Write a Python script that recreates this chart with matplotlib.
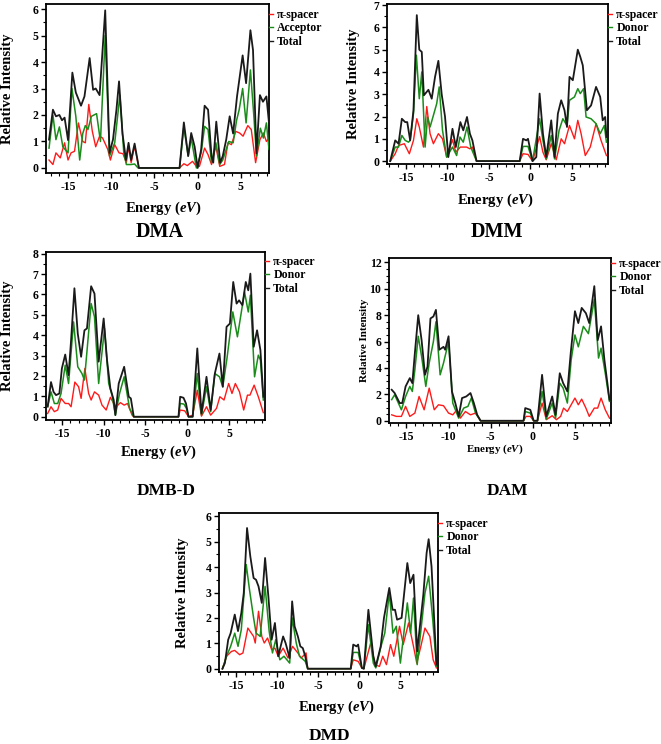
import matplotlib
matplotlib.use("Agg")
import matplotlib.pyplot as plt
from matplotlib.ticker import MultipleLocator

plt.rcParams['font.family'] = ['Liberation Serif', 'DejaVu Serif']
plt.rcParams['font.weight'] = 'bold'
plt.rcParams['axes.unicode_minus'] = False
plt.rcParams['mathtext.fontset'] = 'custom'
plt.rcParams['mathtext.rm'] = 'Liberation Serif:bold'
plt.rcParams['mathtext.it'] = 'Liberation Serif:bold:italic'
plt.rcParams['mathtext.bf'] = 'Liberation Serif:bold'

# ---------------- data (energy in eV, relative intensity) ----------------
# DMA
dma_tot_x = [-17.2,-16.75,-16.4,-16.0,-15.7,-15.4,-15.0,-14.5,-14.1,-13.5,-13.1,-12.5,-12.1,-11.8,-11.35,-10.7,-10.2,-9.8,-9.4,-9.1,-8.7,-8.3,-8.0,-7.7,-7.3,-6.8,-2.1,-1.6,-1.1,-0.75,-0.35,0.0,0.4,0.8,1.2,1.6,1.8,2.15,2.6,2.9,3.3,3.7,4.1,4.55,5.2,5.6,6.1,6.4,6.8,7.2,7.55,7.95,8.25]
dma_tot_y = [1.07,2.2,1.95,2.0,1.8,1.9,1.05,3.6,2.85,2.35,2.7,4.15,2.95,3.0,2.75,5.95,0.57,1.07,2.2,3.27,1.3,0.3,0.95,0.3,0.92,0,0,1.72,0.45,1.32,0.8,0,0.7,2.35,2.2,0.45,0.2,1.75,0.2,0.45,1.07,1.95,1.3,2.7,4.25,3.2,5.2,4.45,0.55,2.75,2.5,2.7,1.7]
dma_acc_x = [-17.2,-16.75,-16.4,-16.0,-15.6,-15.0,-14.55,-14.1,-13.65,-13.3,-13.0,-12.7,-12.3,-11.7,-11.25,-10.7,-10.2,-9.6,-9.0,-8.55,-8.25,-7.7,-7.3,-6.9,-2.1,-1.6,-1.1,-0.75,-0.15,0.4,0.8,1.2,1.6,2.1,2.55,2.9,3.3,3.6,4.1,4.5,4.8,5.2,5.6,6.1,6.5,6.8,7.25,7.6,7.95,8.25]
dma_acc_y = [0.75,2.0,1.07,1.55,0.8,0.57,3.0,1.95,0.3,1.3,1.6,1.45,1.95,2.05,1.0,5.0,0.45,0.95,2.75,0.57,0.13,0.13,0.15,0,0,1.55,0.45,1.13,0,0.57,1.57,1.45,0.2,0.95,0.13,0.3,0.7,1.0,0.95,1.8,2.2,3.0,1.7,3.7,1.95,0.45,1.5,1.13,1.7,0.7]
dma_pi_x = [-17.2,-16.75,-16.4,-15.9,-15.4,-15.0,-14.65,-14.25,-13.8,-13.3,-13.0,-12.6,-12.2,-11.8,-11.35,-11.0,-10.4,-10.1,-9.6,-9.1,-8.65,-8.25,-8.0,-7.7,-7.3,-6.8,-2.1,-1.6,-1.2,-0.6,-0.15,0.2,0.8,1.2,1.6,2.1,2.55,3.1,3.5,3.9,4.4,4.85,5.25,5.8,6.2,6.7,7.2,7.6,7.95,8.25]
dma_pi_y = [0.3,0.13,0.57,0.38,0.95,0.3,0.57,0.63,1.7,1.0,0.95,2.4,1.4,0.8,1.2,1.13,0.7,0.3,0.88,0.57,0.54,0.2,0.82,0.2,0.82,0,0,0.16,0.09,0.25,0.06,0.06,0.75,0.5,0.13,0.82,0.06,0.13,0.95,0.88,1.38,1.32,1.2,1.6,1.45,0.2,1.07,1.32,1.0,1.13]

# DMM
dmm_tot_x = [-16.9,-16.3,-15.9,-15.5,-15.1,-14.85,-14.5,-14.1,-13.7,-13.4,-13.1,-12.85,-12.3,-11.9,-11.5,-11.1,-10.7,-10.3,-9.9,-9.4,-9.0,-8.45,-8.1,-7.65,-7.3,-7.0,-6.5,-1.3,-0.9,-0.5,-0.3,0.25,0.7,1.1,1.5,1.9,2.5,2.9,3.3,3.7,4.1,4.4,4.7,5.1,5.7,6.0,6.3,6.8,7.3,7.9,8.4,8.7,9.0,9.15]
dmm_tot_y = [0,0.93,0.78,1.9,1.75,1.75,0.93,2.28,6.55,5.0,4.9,2.95,3.2,2.8,3.78,4.5,3.0,2.0,0.18,1.45,0.63,1.75,1.38,1.98,1.23,0.93,0,0,1.0,0.93,1.0,0,0.18,3.03,1.23,0.18,1.83,0.18,2.13,2.73,2.28,1.53,3.78,3.63,5.0,4.68,4.3,2.28,2.5,3.33,2.88,1.83,1.98,1.08]
dmm_don_x = [-16.9,-16.3,-15.9,-15.5,-15.1,-14.7,-14.5,-14.1,-13.75,-13.4,-13.1,-12.7,-12.4,-12.1,-11.7,-11.3,-11.0,-10.6,-10.1,-9.4,-8.9,-8.5,-8.1,-7.65,-7.2,-6.5,-1.3,-0.9,-0.3,0.25,1.1,1.5,1.9,2.5,2.9,3.45,3.9,4.4,4.7,5.3,5.7,6.0,6.4,6.7,7.3,7.9,8.4,8.9,9.15]
dmm_don_y = [0,0.63,0.63,1.15,0.93,0.85,0.93,2.13,4.75,2.8,4.0,0.63,1.98,1.53,2.05,2.58,3.33,1.38,0.18,0.63,0.25,1.08,0.85,1.53,0.63,0,0,0.66,0.66,0,1.9,0.93,0.1,1.15,0.1,1.38,1.9,1.6,2.73,2.88,3.25,3.03,3.25,1.98,1.9,1.68,1.23,1.6,0.85]
dmm_pi_x = [-16.9,-16.3,-15.9,-15.2,-14.6,-14.1,-13.7,-13.4,-12.9,-12.5,-12.1,-11.7,-11.1,-10.6,-10.1,-9.4,-9.0,-8.45,-7.7,-7.3,-7.0,-6.5,-1.3,-0.9,-0.3,0.25,1.1,1.5,1.9,2.5,3.1,3.7,4.1,4.7,5.3,5.7,6.1,6.6,7.2,7.9,8.5,9.15]
dmm_pi_y = [0,0.33,0.7,0.78,0.33,0.93,1.9,1.53,0.63,2.45,1.23,0.78,1.23,1.0,0.18,0.96,0.4,0.63,0.63,0.55,0.63,0,0,0.33,0.3,0,1.1,0.4,0.06,0.78,0.06,1.0,0.78,1.6,1.0,1.83,1.23,0.25,0.63,1.68,0.93,0.25]

# DMB-D
dmbd_tot_x = [-16.7,-16.3,-16.0,-15.7,-15.3,-15.0,-14.6,-14.2,-13.9,-13.5,-13.1,-12.7,-12.3,-12.0,-11.5,-11.1,-10.6,-10.0,-9.6,-9.2,-8.8,-8.6,-8.2,-7.55,-7.0,-6.75,-6.4,-1.05,-0.85,-0.45,-0.15,0.15,0.65,1.2,1.7,2.3,2.8,3.3,3.85,4.25,4.7,5.1,5.5,5.9,6.2,6.6,7.0,7.3,7.55,7.95,8.35,8.75,9.1]
dmbd_tot_y = [0.5,1.7,1.22,1.06,1.14,2.37,3.05,2.04,3.75,6.3,4.08,2.94,4.24,4.33,6.4,6.04,2.7,4.82,2.78,1.39,0.82,0.08,1.63,2.45,0.98,0.9,0,0,0.98,0.93,0.65,0,0,3.35,0.16,1.96,0.33,2.12,3.1,1.47,4.41,4.57,6.61,5.55,5.71,5.47,6.61,6.2,7.02,3.43,4.24,3.27,0.98]
dmbd_don_x = [-16.7,-16.3,-15.9,-15.5,-15.1,-14.6,-14.2,-13.6,-13.1,-12.6,-12.3,-11.5,-11.1,-10.6,-9.9,-9.4,-9.0,-8.6,-8.1,-7.55,-6.9,-6.4,-1.05,-0.85,-0.4,-0.1,0.15,0.65,1.2,1.7,2.3,2.8,3.3,3.85,4.25,4.75,5.45,6.0,6.85,7.3,7.55,8.05,8.5,8.75,9.1]
dmbd_don_y = [0.5,1.22,0.65,0.65,1.14,2.53,1.63,4.65,2.45,2.12,1.8,5.55,4.9,1.63,4.33,1.63,1.06,0.08,1.14,1.96,0.41,0,0,0.65,0.62,0.41,0,0,2.12,0.08,1.47,0.25,2.12,1.96,1.47,2.86,5.14,3.92,6.12,5.14,5.96,1.96,3.02,2.78,0.82]
dmbd_pi_x = [-16.7,-16.3,-15.9,-15.5,-15.1,-14.6,-14.2,-13.9,-13.45,-13.0,-12.7,-12.25,-11.8,-11.5,-11.1,-10.6,-10.2,-9.7,-9.2,-8.8,-8.5,-8.0,-7.55,-7.15,-6.6,-6.4,-1.05,-0.85,-0.3,0.15,0.65,1.2,1.7,2.3,2.8,3.5,3.9,4.4,4.95,5.35,5.75,6.25,6.75,7.2,7.5,8.0,8.5,9.1]
dmbd_pi_y = [0.16,0.49,0.25,0.33,0.9,0.65,0.65,0.49,1.7,1.47,0.9,2.37,1.14,0.82,1.22,1.06,0.57,0.33,0.95,0.65,0.49,0.69,0.57,0.65,0.08,0,0,0.33,0.29,0,0.08,1.3,0.03,0.49,0.08,0.41,0.98,0.82,1.63,1.14,1.63,1.22,0.33,1.06,1.06,1.55,0.98,0.2]

# DAM
dam_tot_x = [-16.75,-16.4,-15.8,-15.5,-15.1,-14.6,-14.3,-14.0,-13.6,-13.2,-12.8,-12.5,-12.15,-11.8,-11.5,-11.1,-10.6,-10.4,-10.0,-9.6,-9.2,-8.8,-8.4,-7.9,-7.4,-7.0,-6.6,-6.2,-1.1,-0.9,-0.3,0.1,0.55,1.1,1.6,2.3,2.7,3.2,3.6,4.1,4.5,5.0,5.4,5.8,6.3,6.7,7.3,7.7,8.1,8.5,9.1]
dam_tot_y = [2.35,2.1,1.34,1.34,2.6,3.23,2.85,5.13,8.0,6.1,3.48,4.1,7.75,7.9,8.4,5.38,5.6,5.38,6.4,2.22,1.34,0.33,1.72,1.84,2.1,1.34,0.45,0,0,0.96,0.83,0,0,3.48,0.33,1.84,0.45,3.6,2.85,2.22,5.13,8.3,7.4,8.55,8.15,7.4,10.2,6.1,7.15,4.6,1.6]
dam_don_x = [-16.75,-16.4,-15.6,-15.1,-14.6,-14.3,-14.0,-13.6,-13.2,-12.7,-12.3,-11.8,-11.5,-11.0,-10.6,-10.0,-9.5,-8.8,-8.2,-7.7,-7.3,-6.8,-6.2,-1.1,-0.9,-0.3,0.1,0.55,1.1,1.6,2.3,2.7,3.2,3.6,4.1,4.55,5.0,5.4,6.0,6.6,7.3,7.8,8.1,8.6,9.1]
dam_don_y = [1.6,1.97,0.83,1.84,2.6,2.22,3.86,6.4,4.87,2.6,4.37,6.0,7.5,3.48,4.37,6.0,1.34,0.2,0.96,1.09,1.72,0.58,0,0,0.7,0.58,0,0,2.22,0.13,1.34,0.2,2.85,2.47,1.34,4.6,6.5,5.6,7.15,6.6,9.2,4.75,5.5,3.6,1.47]
dam_pi_x = [-16.75,-16.2,-15.6,-15.1,-14.6,-14.0,-13.5,-12.9,-12.3,-11.7,-11.2,-10.6,-10.0,-9.5,-9.0,-8.6,-8.0,-7.4,-6.8,-6.2,-1.1,-0.8,-0.3,0.1,0.55,1.1,1.6,2.3,2.8,3.3,3.65,4.1,5.0,5.4,5.8,6.3,6.7,7.3,7.7,8.1,8.6,9.1]
dam_pi_y = [0.45,0.33,0.33,1.09,0.33,0.58,1.84,0.83,2.47,0.83,1.21,1.14,0.58,0.45,0.83,0.2,0.7,0.45,0.58,0,0,0.33,0.33,0,0,1.34,0.08,0.38,0.08,0.33,0.96,0.7,1.72,1.21,1.64,0.96,0.33,0.96,0.96,1.72,0.83,0.2]

# DMD
dmd_tot_x = [-16.7,-16.4,-16.0,-15.7,-15.2,-14.8,-14.4,-14.1,-13.7,-13.3,-12.9,-12.6,-12.3,-11.9,-11.5,-11.1,-10.7,-10.3,-9.9,-9.3,-9.0,-8.5,-8.2,-7.9,-7.5,-7.2,-6.9,-6.6,-6.3,-1.05,-0.75,-0.35,-0.15,0.3,0.55,1.1,1.7,2.0,2.6,3.0,3.65,4.05,4.35,4.6,5.15,5.85,6.2,6.6,7.05,7.8,8.2,8.45,8.8,9.4]
dmd_tot_y = [0,0.22,1.14,1.4,2.13,1.48,2.19,2.98,5.54,4.42,3.57,3.5,3.24,2.59,4.36,2.85,1.14,1.8,0.49,1.27,1.01,0.42,2.65,1.67,1.27,0.88,0.81,0.49,0,0,0.95,0.88,0.95,0.03,0,2.32,0.49,0.09,0.88,2.0,3.18,2.32,2.32,1.93,2.0,4.16,3.37,3.7,0.68,2.91,4.55,5.1,4.03,0.16]
dmd_don_x = [-16.7,-16.2,-15.7,-15.2,-14.8,-14.4,-13.8,-13.4,-12.9,-12.6,-12.1,-11.5,-11.0,-10.6,-10.2,-9.7,-9.2,-8.5,-8.2,-7.7,-7.3,-6.6,-6.3,-1.05,-0.75,-0.15,0.3,0.55,1.1,1.7,2.0,2.7,3.1,3.65,4.1,4.5,5.0,5.85,6.25,6.6,7.05,8.0,8.45,8.95,9.4]
dmd_don_y = [0,0.49,0.88,1.4,0.88,1.54,4.1,3.11,2.0,1.4,1.27,3.24,1.47,0.62,1.14,0.35,0.49,0.22,2.0,1.01,0.49,0.29,0,0,0.64,0.64,0.03,0,1.73,0.22,0.03,0.95,1.4,2.98,1.4,1.67,0.22,2.59,1.4,2.78,0.16,2.98,3.64,1.93,0.09]
dmd_pi_x = [-16.7,-16.2,-15.6,-15.2,-14.6,-14.2,-13.6,-12.9,-12.7,-12.3,-11.9,-11.6,-11.2,-10.7,-10.3,-9.9,-9.3,-8.7,-8.15,-7.5,-7.1,-6.5,-6.3,-1.05,-0.75,-0.15,0.3,0.55,1.4,1.9,2.45,2.85,3.3,3.8,4.2,4.9,5.35,6.0,6.6,7.0,7.5,8.0,8.6,9.0,9.4]
dmd_pi_y = [0,0.49,0.68,0.72,0.55,0.62,1.6,1.27,1.01,2.26,1.27,1.01,1.21,0.75,0.81,0.49,0.81,0.42,0.88,0.62,0.42,0.62,0,0,0.35,0.29,0.03,0,1.04,0.16,0.09,0.49,0.16,0.95,0.49,1.67,0.95,1.8,0.88,0.22,0.88,1.6,1.27,0.35,0.03]

series_labels = ["π-spacer", "Total"]
panel_names = ["DMA", "DMM", "DMB-D", "DAM", "DMD"]
second_labels = ["Acceptor", "Donor", "Donor", "Donor", "Donor"]
x_ticks = [-15, -10, -5, 0, 5]

# ---------------- layout ----------------
W, H = 661, 744
fig = plt.figure(figsize=(W / 100, H / 100), dpi=100)
fig.patch.set_facecolor("white")

def rect(l, r, t, b):
    return [l / W, 1 - b / H, (r - l) / W, (b - t) / H]

panels = [
    dict(frame=(46, 269, 4, 173), xlim=(-17.55, 8.25), ylim=(-0.19, 6.19), ymax=6, ystep=1,
         data=(dma_pi_x, dma_pi_y, dma_acc_x, dma_acc_y, dma_tot_x, dma_tot_y),
         ylab_x=8, ylab_fs=10.5, xlab=(163, 208), xlab_fs=10.5, title=(160, 232), title_fs=14.5, leg_off=5),
    dict(frame=(387, 608, 4, 164), xlim=(-17.29, 9.34), ylim=(-0.13, 7.05), ymax=7, ystep=1,
         data=(dmm_pi_x, dmm_pi_y, dmm_don_x, dmm_don_y, dmm_tot_x, dmm_tot_y),
         ylab_x=353, ylab_fs=10.5, xlab=(495, 200), xlab_fs=10.5, title=(497, 232), title_fs=14.5, leg_off=5),
    dict(frame=(46, 265, 252, 420), xlim=(-16.9, 9.3), ylim=(-0.16, 8.08), ymax=8, ystep=1,
         data=(dmbd_pi_x, dmbd_pi_y, dmbd_don_x, dmbd_don_y, dmbd_tot_x, dmbd_tot_y),
         ylab_x=8, ylab_fs=10.5, xlab=(158, 452), xlab_fs=10.5, title=(166, 491), title_fs=12.5, leg_off=4),
    dict(frame=(389, 611, 258, 423), xlim=(-17.07, 9.28), ylim=(-0.17, 12.33), ymax=12, ystep=2,
         data=(dam_pi_x, dam_pi_y, dam_don_x, dam_don_y, dam_tot_x, dam_tot_y),
         ylab_x=365, ylab_fs=8, xlab=(495, 449), xlab_fs=7.8, title=(507, 491), title_fs=12.5, leg_off=0),
    dict(frame=(219, 438, 513, 672), xlim=(-17.12, 9.59), ylim=(-0.13, 6.13), ymax=6, ystep=1,
         data=(dmd_pi_x, dmd_pi_y, dmd_don_x, dmd_don_y, dmd_tot_x, dmd_tot_y),
         ylab_x=182, ylab_fs=10.5, xlab=(336, 707), xlab_fs=10.5, title=(330, 736), title_fs=12.5, leg_off=5),
]

RED, GREEN, BLACK = "#ff1a1a", "#1a8c1a", "#1a1a1a"

for i, p in enumerate(panels):
    l, r, t, b = p["frame"]
    ax = fig.add_axes(rect(l, r, t, b))
    pix, piy, dx, dy, tx, ty = p["data"]
    h1, = ax.plot(pix, piy, color=RED, lw=1.0, label=series_labels[0], zorder=2)
    h2, = ax.plot(dx, dy, color=GREEN, lw=1.1, label=second_labels[i], zorder=3)
    h3, = ax.plot(tx, ty, color=BLACK, lw=1.3, label=series_labels[1], zorder=4)
    ax.set_xlim(*p["xlim"])
    ax.set_ylim(*p["ylim"])
    ax.set_xticks(x_ticks)
    ax.set_yticks(list(range(0, p["ymax"] + 1, p["ystep"])))
    ax.xaxis.set_minor_locator(MultipleLocator(1))
    ax.yaxis.set_minor_locator(MultipleLocator(0.5))
    ax.tick_params(which="major", direction="out", length=3.5, width=1.0, labelsize=8.5, pad=2)
    ax.tick_params(which="minor", direction="out", length=2, width=0.8)
    for lab in ax.get_xticklabels() + ax.get_yticklabels():
        lab.set_fontweight("bold")
    for s in ax.spines.values():
        s.set_linewidth(1.3)
    leg = ax.legend(handles=[h1, h2, h3], loc="upper left",
                    bbox_to_anchor=(1.0, 1 - p["leg_off"] / (b - t)),
                    frameon=False, handlelength=0.35, handletextpad=0.35,
                    borderpad=0, borderaxespad=0, labelspacing=0.12,
                    prop=dict(family="Liberation Serif", weight="bold", size=8.5))
    for line in leg.get_lines():
        line.set_linewidth(1.0)
    fig.text(p["ylab_x"] / W, 1 - (t + b) / 2 / H, "Relative Intensity", rotation=90,
             ha="center", va="center", fontsize=p["ylab_fs"], fontweight="bold")
    fig.text(p["xlab"][0] / W, 1 - p["xlab"][1] / H, r"Energy $\mathit{(eV)}$",
             ha="center", va="center", fontsize=p["xlab_fs"], fontweight="bold")
    fig.text(p["title"][0] / W, 1 - p["title"][1] / H, panel_names[i],
             ha="center", va="center", fontsize=p["title_fs"], fontweight="bold")

fig.savefig("out.png", dpi=100, facecolor="white")
